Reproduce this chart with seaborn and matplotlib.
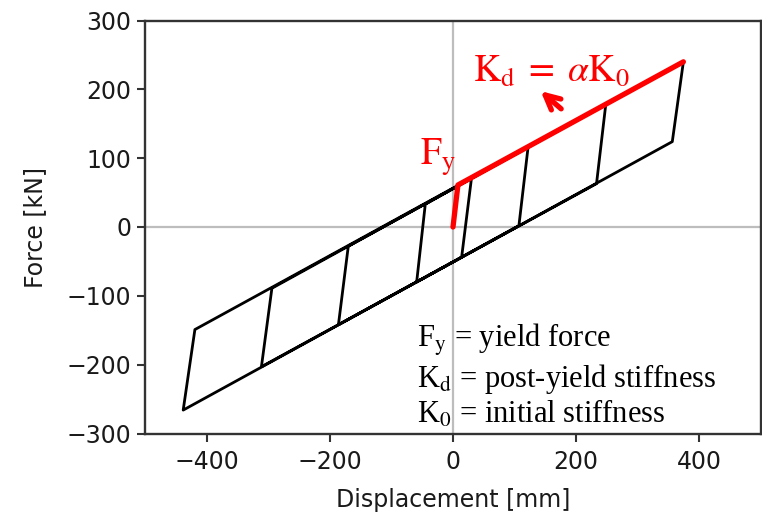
import matplotlib
matplotlib.use("Agg")
import matplotlib.pyplot as plt
import seaborn as sns
import pandas as pd

# Hysteresis path vertices (displacement [mm], force [kN])
disp = [0, 8, 30, 14, -59, -45, 122, 107, -186, -170, 248, 233, -311, -294, 374, 356, -438, -419, 374]
force = [0, 61, 71, -44, -80, 33, 117, 2, -142, -28, 178, 63, -203, -89, 240, 124, -266, -149, 240]

# Red bilinear backbone
red_disp = [0, 8, 374]
red_force = [0, 61, 240]

x_ticks = [-400, -200, 0, 200, 400]
y_ticks = [-300, -200, -100, 0, 100, 200, 300]

sns.set_theme(style="ticks")
plt.rcParams["font.family"] = ["DejaVu Sans"]
plt.rcParams["mathtext.fontset"] = "stix"

fig = plt.figure(figsize=(7.62, 5.16), dpi=100)
ax = fig.add_axes([145 / 762, 1 - 433.5 / 516, 616 / 762, 413 / 516])

ax.axhline(0, color="#bdbdbd", lw=1.6, zorder=1)
ax.axvline(0, color="#bdbdbd", lw=1.6, zorder=1)

df = pd.DataFrame({"disp": disp, "force": force})
sns.lineplot(data=df, x="disp", y="force", sort=False, estimator=None,
             color="black", lw=2.0, ax=ax, zorder=2)
dfr = pd.DataFrame({"disp": red_disp, "force": red_force})
sns.lineplot(data=dfr, x="disp", y="force", sort=False, estimator=None,
             color="red", lw=3.8, ax=ax, zorder=3)

ax.set_xlim(-500, 500)
ax.set_ylim(-300, 300)
ax.set_xticks(x_ticks)
ax.set_yticks(y_ticks)
ax.tick_params(labelsize=17, length=6, width=1.5, color="#333333",
               labelcolor="#1a1a1a")
ax.tick_params(axis="x", pad=6)
ax.tick_params(axis="y", pad=4)
ax.set_xlabel("Displacement [mm]", fontsize=17, color="#1a1a1a", labelpad=10)
ax.set_ylabel("Force [kN]", fontsize=17, color="#1a1a1a", labelpad=14)
for s in ax.spines.values():
    s.set_visible(True)
    s.set_linewidth(1.7)
    s.set_color("#333333")

# Red annotations
ax.text(32, 213, r"$\mathrm{K_d}\;=\;\alpha\mathrm{K_0}$", color="red", fontsize=27,
        ha="left", va="baseline")
ax.text(-54, 90, r"$\mathrm{F_y}$", color="red", fontsize=27, ha="left", va="baseline")
ax.annotate("", xy=(139, 200), xytext=(179, 169),
            arrowprops=dict(arrowstyle="->", color="red", lw=3.8, mutation_scale=26))

# Definitions
serif = "Liberation Serif"
ax.text(-59, -174, r"F$_{\rm y}$ = yield force", fontsize=22, family=serif,
        color="black", ha="left", va="baseline")
ax.text(-59, -233, r"K$_{\rm d}$ = post-yield stiffness", fontsize=22, family=serif,
        color="black", ha="left", va="baseline")
ax.text(-59, -285, r"K$_{0}$ = initial stiffness", fontsize=22, family=serif,
        color="black", ha="left", va="baseline")

fig.savefig("out.png", dpi=100)
